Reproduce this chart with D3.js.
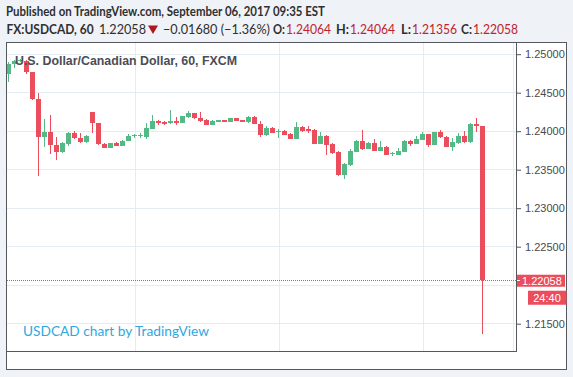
<!DOCTYPE html>
<html><head><meta charset="utf-8">
<script src="https://cdn.jsdelivr.net/npm/d3@7"></script>
<style>
html,body{margin:0;padding:0;background:#eff2f7;}
svg{display:block;}
</style></head>
<body>
<svg id="chart" width="573" height="377"></svg>
<script>
// ---------- data (USDCAD, 60 min, FXCM) ----------
const publishedText = "Published on TradingView.com, September 06, 2017 09:35 EST";
const symbolText = "FX:USDCAD, 60";
const titleText = "U.S. Dollar/Canadian Dollar, 60, FXCM";
const watermarkText = "USDCAD chart by TradingView";
const dayChange = -0.01680;
const dayChangePct = -1.36;
const countdown = "24:40";

const open = [1.24736,1.24866,1.24905,1.24909,1.24758,1.24408,1.23912,1.23979,1.23810,1.23723,
  1.23831,1.23966,1.23899,1.23847,1.24239,1.24096,1.23825,1.23779,1.23834,1.23805,
  1.23870,1.23929,1.23925,1.23922,1.24022,1.24122,1.24109,1.24096,1.24126,1.24104,
  1.24182,1.24230,1.24169,1.24145,1.24074,1.24117,1.24139,1.24119,1.24161,1.24139,
  1.24113,1.24182,1.24090,1.23944,1.24031,1.23979,1.24000,1.23957,1.23892,1.24052,
  1.24016,1.24013,1.23827,1.23931,1.23827,1.23723,1.23425,1.23555,1.23723,1.23866,
  1.23762,1.23844,1.23740,1.23784,1.23691,1.23684,1.23727,1.23866,1.23827,1.23879,
  1.23953,1.23814,1.23979,1.23922,1.23792,1.23836,1.23931,1.23849,1.24087,1.24064];
const high = [1.24892,1.24918,1.24925,1.24918,1.24766,1.24486,1.24158,1.24204,1.23914,1.23847,
  1.23977,1.23996,1.23964,1.23944,1.24243,1.24106,1.23834,1.23840,1.23847,1.23879,
  1.23951,1.23953,1.23966,1.24096,1.24204,1.24139,1.24126,1.24269,1.24184,1.24197,
  1.24256,1.24236,1.24239,1.24158,1.24139,1.24145,1.24145,1.24165,1.24165,1.24145,
  1.24191,1.24191,1.24126,1.24057,1.24044,1.24018,1.24009,1.23970,1.24117,1.24061,
  1.24061,1.24022,1.23987,1.23944,1.23834,1.23730,1.23584,1.23758,1.23873,1.24009,
  1.23853,1.23886,1.23866,1.23795,1.23723,1.23771,1.23879,1.23879,1.23931,1.23979,
  1.23957,1.23983,1.24009,1.23931,1.23901,1.23966,1.23996,1.24094,1.24169,1.24064];
const low = [1.24629,1.24818,1.24892,1.24732,1.24399,1.23416,1.23782,1.23697,1.23619,1.23710,
  1.23801,1.23886,1.23840,1.23840,1.23966,1.23808,1.23769,1.23769,1.23795,1.23795,
  1.23866,1.23899,1.23899,1.23892,1.24016,1.24074,1.24068,1.24087,1.24074,1.24100,
  1.24171,1.24158,1.24117,1.24068,1.24068,1.24113,1.24113,1.24113,1.24123,1.24113,
  1.24106,1.24081,1.23922,1.23935,1.23966,1.23909,1.23938,1.23886,1.23888,1.23979,
  1.23966,1.23821,1.23821,1.23684,1.23694,1.23412,1.23369,1.23545,1.23717,1.23749,
  1.23756,1.23734,1.23734,1.23678,1.23671,1.23678,1.23723,1.23805,1.23821,1.23873,
  1.23792,1.23808,1.23908,1.23784,1.23740,1.23827,1.23843,1.23836,1.23987,1.21356];
const close = [1.24862,1.24905,1.24914,1.24758,1.24408,1.23912,1.23977,1.23810,1.23727,1.23836,
  1.23966,1.23899,1.23847,1.23935,1.24096,1.23821,1.23779,1.23834,1.23801,1.23870,
  1.23935,1.23940,1.23938,1.24031,1.24126,1.24096,1.24087,1.24126,1.24096,1.24191,
  1.24226,1.24165,1.24130,1.24074,1.24130,1.24139,1.24117,1.24161,1.24130,1.24117,
  1.24182,1.24087,1.23940,1.24031,1.23974,1.24000,1.23944,1.23892,1.24052,1.23996,
  1.24000,1.23827,1.23931,1.23814,1.23707,1.23425,1.23568,1.23736,1.23866,1.23760,
  1.23844,1.23740,1.23792,1.23684,1.23704,1.23736,1.23866,1.23827,1.23892,1.23953,
  1.23814,1.23979,1.23914,1.23792,1.23849,1.23931,1.23849,1.24083,1.24065,1.22058];

const dayTickIndex = [21, 45, 69, 84];
const dayTickLabels = ["4", "5", "6", "15:00"];
const priceTicks = [1.215, 1.22, 1.225, 1.23, 1.235, 1.24, 1.245, 1.25];

// ---------- drawing ----------
const svg = d3.select("#chart");
const W = 573, H = 377;
const plot = {left: 7, right: 516, top: 43, bottom: 351};
const UP = "#53b987", DOWN = "#eb4d5c", VALRED = "#c0232e";
const FONT = "'Liberation Sans', Arial, sans-serif";

const n = close.length;
const lastPrice = close[n - 1];
const idx = d3.range(n);

const x = d3.scaleLinear().domain([0, 84]).range([8.6, 512.6]);
const y = d3.scaleLinear().domain([1.215, 1.25]).range([323.2, 53.7]);

// header
svg.append("text").attr("x", 6).attr("y", 16)
  .attr("font-family", "Lato, sans-serif").attr("font-size", 13).attr("font-weight", 700)
  .attr("fill", "#2f2f2f").attr("textLength", 319).attr("lengthAdjust", "spacingAndGlyphs")
  .text(publishedText);

const fmt5 = d3.format(".5f");
const minus = s => s.replace("-", "\u2212");
const line2 = [
  {t: symbolText, x: 6.6, w: 87, bold: true, c: "#2f2f2f"},
  {t: fmt5(lastPrice), x: 99, w: 47, bold: false, c: "#2f2f2f"},
  {t: minus(fmt5(dayChange)) + " (" + minus(d3.format(".2f")(dayChangePct)) + "%)", x: 163, w: 107, bold: false, c: "#2f2f2f"},
  {t: "O:", x: 273, w: 12, bold: true, c: "#2f2f2f"},
  {t: fmt5(open[n - 1]), x: 286, w: 45, bold: false, c: VALRED},
  {t: "H:", x: 336, w: 13, bold: true, c: "#2f2f2f"},
  {t: fmt5(high[n - 1]), x: 350, w: 45, bold: false, c: VALRED},
  {t: "L:", x: 401, w: 10, bold: true, c: "#2f2f2f"},
  {t: fmt5(low[n - 1]), x: 412, w: 45, bold: false, c: VALRED},
  {t: "C:", x: 461, w: 11, bold: true, c: "#2f2f2f"},
  {t: fmt5(close[n - 1]), x: 473, w: 45, bold: false, c: VALRED}
];
svg.append("g").selectAll("text").data(line2).join("text")
  .attr("x", d => d.x).attr("y", 34)
  .attr("font-family", "Lato, sans-serif").attr("font-size", 13)
  .attr("font-weight", d => d.bold ? 700 : 400)
  .attr("fill", d => d.c)
  .attr("textLength", d => d.w).attr("lengthAdjust", "spacingAndGlyphs")
  .text(d => d.t);
svg.append("path").attr("d", "M148,25.5 L158,25.5 L153,34 Z").attr("fill", "#b0161e");

// frame
svg.append("rect").attr("x", 6.5).attr("y", 42.5).attr("width", 560).attr("height", 327)
  .attr("fill", "#ffffff").attr("stroke", "#55585f").attr("stroke-width", 1);

// clip
svg.append("clipPath").attr("id", "plotclip").append("rect")
  .attr("x", plot.left).attr("y", plot.top)
  .attr("width", plot.right - plot.left).attr("height", plot.bottom - plot.top);
svg.append("clipPath").attr("id", "timeclip").append("rect")
  .attr("x", plot.left).attr("y", plot.bottom)
  .attr("width", plot.right - plot.left + 0.5).attr("height", 18);

const grid = svg.append("g").attr("clip-path", "url(#plotclip)");
grid.selectAll(".hg").data(priceTicks).join("line")
  .attr("x1", plot.left).attr("x2", plot.right)
  .attr("y1", d => Math.round(y(d)) + 0.5).attr("y2", d => Math.round(y(d)) + 0.5)
  .attr("stroke", "#e4ebf3").attr("stroke-width", 1);
grid.selectAll(".vg").data(dayTickIndex).join("line")
  .attr("y1", plot.top).attr("y2", plot.bottom)
  .attr("x1", d => Math.round(x(d)) + 0.5).attr("x2", d => Math.round(x(d)) + 0.5)
  .attr("stroke", "#e4ebf3").attr("stroke-width", 1);

// last price dotted line
grid.append("line").attr("x1", plot.left).attr("x2", plot.right)
  .attr("y1", Math.round(y(lastPrice)) + 0.5).attr("y2", Math.round(y(lastPrice)) + 0.5)
  .attr("stroke", DOWN).attr("stroke-width", 1).attr("stroke-dasharray", "1,1");

// candles
const cg = svg.append("g").attr("clip-path", "url(#plotclip)").attr("shape-rendering", "crispEdges");
const col = i => close[i] >= open[i] ? UP : DOWN;
cg.selectAll(".wick").data(idx).join("rect")
  .attr("x", i => Math.round(x(i) - 2.5) + 2)
  .attr("width", 1)
  .attr("y", i => y(high[i]))
  .attr("height", i => Math.max(1, y(low[i]) - y(high[i])))
  .attr("fill", col);
cg.selectAll(".body").data(idx).join("rect")
  .attr("x", i => Math.round(x(i) - 2.5))
  .attr("width", 5)
  .attr("y", i => y(Math.max(open[i], close[i])))
  .attr("height", i => Math.max(1, Math.abs(y(open[i]) - y(close[i]))))
  .attr("fill", col);

// title and watermark
svg.append("text").attr("x", 15).attr("y", 65)
  .attr("font-family", FONT).attr("font-size", 12.5).attr("font-weight", 700)
  .attr("fill", "#4a4d55").attr("textLength", 222).attr("lengthAdjust", "spacingAndGlyphs")
  .text(titleText);
svg.append("text").attr("x", 23).attr("y", 336)
  .attr("font-family", "Lato, sans-serif").attr("font-size", 14)
  .attr("fill", "#2ea8e0").attr("textLength", 186).attr("lengthAdjust", "spacingAndGlyphs")
  .text(watermarkText);

// axes lines
svg.append("line").attr("x1", plot.right + 0.5).attr("x2", plot.right + 0.5)
  .attr("y1", plot.top).attr("y2", plot.bottom + 1).attr("stroke", "#55585f");
svg.append("line").attr("x1", plot.left).attr("x2", plot.right + 1)
  .attr("y1", plot.bottom + 0.5).attr("y2", plot.bottom + 0.5).attr("stroke", "#55585f");

// price axis
const yAxis = d3.axisRight(y).tickValues(priceTicks.filter(p => Math.abs(y(p) - y(lastPrice)) > 12))
  .tickFormat(fmt5).tickSize(4).tickPadding(4);
const ya = svg.append("g").attr("transform", `translate(${plot.right + 1},0.5)`).call(yAxis);
ya.select(".domain").remove();
ya.selectAll("line").attr("stroke", "#555");
ya.selectAll("text").attr("font-family", FONT).attr("font-size", 11).attr("fill", "#4a4a4a");

// time axis
const xAxis = d3.axisBottom(x).tickValues(dayTickIndex)
  .tickFormat((d, i) => dayTickLabels[i]).tickSize(4).tickPadding(3);
const xa = svg.append("g").attr("transform", `translate(0.5,${plot.bottom + 1})`)
  .attr("clip-path", "url(#timeclip)").call(xAxis);
xa.select(".domain").remove();
xa.selectAll("line").attr("stroke", "#555");
xa.selectAll("text").attr("font-family", FONT).attr("font-size", 11).attr("fill", "#4a4a4a");

// last price label + countdown
const ly = y(lastPrice);
svg.append("rect").attr("x", 517).attr("y", ly - 5.5).attr("width", 48).attr("height", 12)
  .attr("fill", DOWN);
svg.append("line").attr("x1", 517).attr("x2", 520).attr("y1", Math.round(ly) + 0.5).attr("y2", Math.round(ly) + 0.5)
  .attr("stroke", "#fff");
svg.append("text").attr("x", 522).attr("y", ly + 4.5)
  .attr("font-family", FONT).attr("font-size", 11).attr("fill", "#fff")
  .text(fmt5(lastPrice));
svg.append("rect").attr("x", 528).attr("y", ly + 10.5).attr("width", 38.5).attr("height", 14)
  .attr("fill", DOWN);
svg.append("text").attr("x", 547).attr("y", ly + 21.5).attr("text-anchor", "middle")
  .attr("font-family", FONT).attr("font-size", 11).attr("fill", "#fff")
  .text(countdown);
</script>
</body></html>
